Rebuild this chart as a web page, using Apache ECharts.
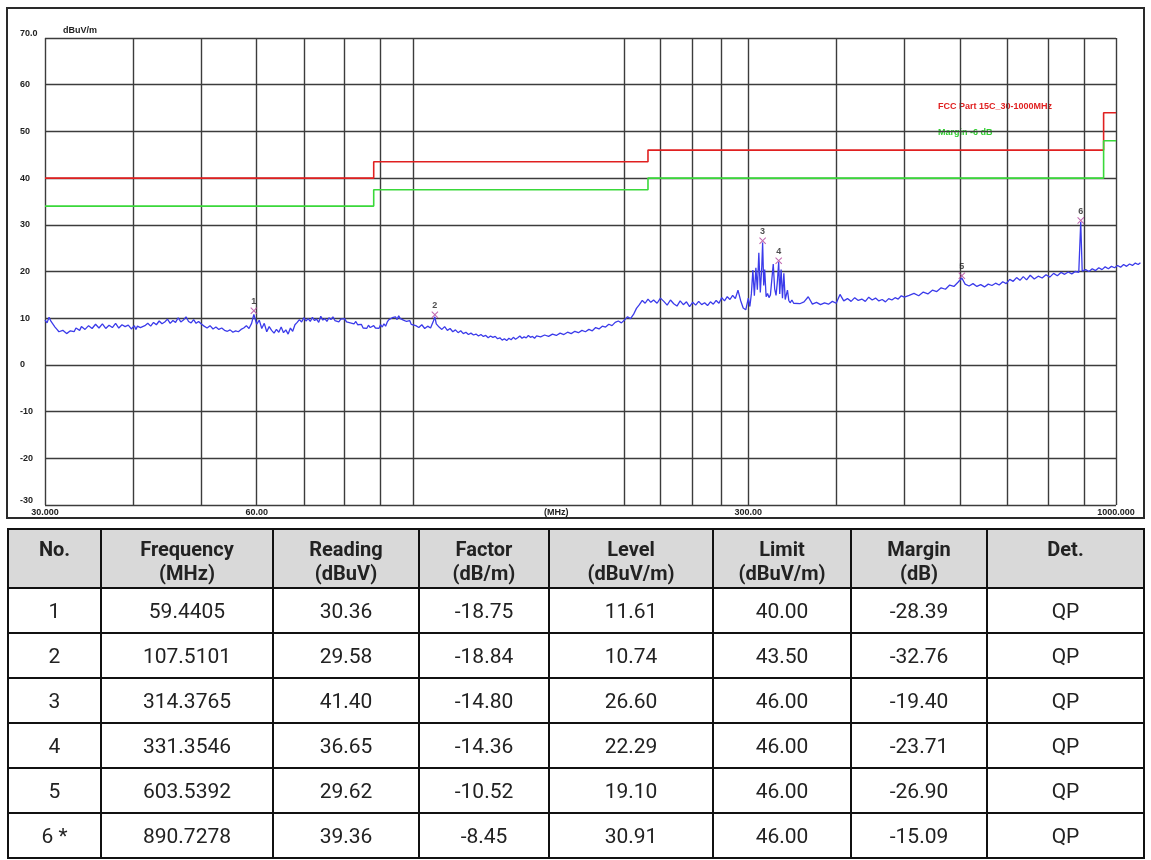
<!DOCTYPE html>
<html>
<head>
<meta charset="utf-8">
<script src="https://cdn.jsdelivr.net/npm/echarts@6/dist/echarts.min.js"></script>
<style>
  html, body { margin: 0; padding: 0; background: #fff; width: 1151px; height: 860px; overflow: hidden; }
  #frame { position: absolute; left: 6px; top: 7px; width: 1135px; height: 508px; border: 2px solid #2a2a2a; }
  #chart { position: absolute; left: 0; top: 0; width: 1151px; height: 525px; }
  #tbl { position: absolute; left: 7px; top: 528px; border-collapse: collapse; table-layout: fixed;
         font-family: Roboto, 'Liberation Sans', sans-serif; color: #222; }
  #tbl th, #tbl td { border: 2px solid #111; text-align: center; padding: 0; }
  #tbl th { background: #d9d9d9; font-weight: bold; font-size: 20px; line-height: 24px; height: 50px; vertical-align: top; padding-top: 7px; }
  #tbl td { font-size: 21px; height: 43px; }
</style>
</head>
<body>
<div id="frame"></div>
<div id="chart"></div>
<table id="tbl"></table>
<script>
const trace30to100 = [
  [30.0,9.6],[30.2,9.0],[30.4,10.2],[30.6,9.3],[30.8,9.0],[31.0,8.1],[31.2,7.6],[31.4,7.1],[31.6,6.9],[31.8,7.4],
  [32.0,7.2],[32.2,6.7],[32.4,6.8],[32.6,7.3],[32.8,7.5],[33.0,7.1],[33.2,7.9],[33.4,7.6],[33.6,7.4],[33.8,8.2],
  [34.0,8.1],[34.2,7.6],[34.4,7.7],[34.6,8.4],[34.8,8.3],[35.0,7.8],[35.2,8.0],[35.4,8.7],[35.6,8.6],[35.8,7.9],
  [36.0,8.1],[36.2,8.8],[36.4,8.4],[36.6,7.8],[36.8,7.9],[37.0,8.5],[37.2,8.7],[37.4,8.0],[37.6,8.2],[37.8,8.9],
  [38.0,8.5],[38.2,7.9],[38.4,8.0],[38.6,8.6],[38.8,8.8],[39.0,8.2],[39.2,7.9],[39.4,8.5],[39.6,8.4],[39.8,7.7],
  [40.0,8.1],[40.2,8.4],[40.4,7.6],[40.6,8.3],[40.8,8.6],[41.0,8.0],[41.2,7.8],[41.6,8.4],
  [42.0,8.9],[42.4,8.3],[42.8,9.1],[43.2,8.6],[43.6,9.4],[44.0,8.8],[44.4,9.2],[44.8,9.8],[45.2,8.9],[45.6,9.5],
  [46.0,9.1],[46.4,10.1],[46.8,9.2],[47.2,9.6],[47.6,10.3],[48.0,9.3],[48.4,9.0],[48.8,9.7],[49.2,8.9],[49.6,9.3],
  [50.0,8.8],[50.5,8.3],[51.0,7.9],[51.5,8.4],[52.0,7.7],[52.5,8.1],[53.0,7.6],[53.5,7.9],[54.0,7.4],[54.5,7.2],
  [55.0,7.5],[55.5,7.0],[56.0,7.3],[56.5,7.1],[57.0,7.6],[57.5,7.9],[58.0,8.4],[58.5,7.8],[59.0,8.9],[59.44,10.8],
  [60.0,8.7],[60.5,9.6],[61.0,7.8],[61.5,8.9],[62.0,7.1],[62.5,8.2],[63.0,7.4],[63.5,6.8],[64.0,7.6],[64.5,7.0],
  [65.0,8.1],[65.5,6.9],[66.0,7.5],[66.5,6.6],[67.0,7.9],[67.5,7.2],[68.0,8.6],[68.5,9.1],[69.0,9.7],[69.5,9.2],
  [70.0,10.1],[70.5,9.4],[71.0,9.9],[71.5,9.3],[72.0,10.2],[72.5,9.5],[73.0,9.8],[73.5,9.1],[74.0,10.4],[74.5,9.6],
  [75.0,9.9],[75.5,9.3],[76.0,10.1],[76.5,9.7],[77.0,10.3],[77.5,9.5],[78.0,9.9],[78.5,9.2],[79.0,9.8],[79.5,9.4],
  [80.0,9.9],[80.5,9.2],[81.0,9.6],[81.5,9.0],[82.0,9.4],[82.5,8.8],[83.0,9.3],[83.5,8.6],[84.0,8.2],[84.5,8.7],
  [85.0,7.9],[85.5,8.3],[86.0,7.8],[86.5,8.5],[87.0,8.0],[87.5,7.7],[88.0,8.4],[88.5,7.9],[89.0,8.3],[89.5,7.8],
  [90.0,8.6],[90.5,8.1],[91.0,8.8],[91.5,8.3],[92.0,9.2],[92.5,9.7],[93.0,9.4],[93.5,10.1],[94.0,9.8],[94.5,10.3],
  [95.0,9.7],[95.5,10.5],[96.0,9.9],[96.5,10.2],[97.0,9.6],[97.5,9.9],[98.0,9.3],[98.5,9.0],[99.0,9.5],[99.5,8.7],
  [100.0,8.9]
];
const trace100to300 = [
  [101,8.4],[102,8.0],[103,8.6],[104,7.8],[105,8.3],[106,7.9],[107,9.4],[107.51,10.3],[108,8.8],[109,8.1],
  [110,7.6],[111,8.2],[112,7.4],[113,7.8],[114,7.1],[115,7.5],[116,6.9],[117,7.3],[118,6.7],[119,7.0],
  [120,6.5],[121,6.8],[122,6.4],[123,6.6],[124,6.2],[125,6.5],[126,6.1],[127,6.3],[128,5.8],[129,6.2],
  [130,5.9],[131,6.1],[132,5.6],[133,5.8],[134,5.3],[135,5.6],[136,5.2],[137,5.7],[138,5.4],[139,5.9],
  [140,5.5],[141,5.8],[142,6.2],[143,5.7],[144,6.0],[145,5.8],[146,6.3],[147,5.9],[148,6.1],[149,5.7],
  [150,6.2],[152,6.0],[154,6.4],[156,6.1],[158,6.6],[160,6.3],[162,6.8],[164,6.5],[166,7.0],[168,6.7],
  [170,7.2],[172,6.9],[174,7.4],[176,7.1],[178,7.6],[180,7.3],[182,8.0],[184,7.7],[186,8.3],[188,8.1],
  [190,8.7],[192,8.4],[194,9.1],[196,9.4],[198,9.0],[200,9.6],[202,10.3],[204,9.9],[206,10.8],[208,12.1],
  [210,12.9],[212,13.8],[214,13.2],[216,14.1],[218,13.4],[220,13.9],[222.5,13.2],[225,14.3],[227.5,13.6],[230,12.8],
  [232.5,13.9],[235,13.1],[237.5,12.6],[240,13.7],[242.5,12.9],[245,13.5],[247.5,12.5],[250,13.4],[252.5,12.8],[255,13.6],
  [257.5,12.9],[260,13.3],[262.5,12.7],[265,13.5],[267.5,13.0],[270,13.8],[272.5,13.2],[275,14.4],[277.5,13.7],[280,14.6],
  [282.5,14.0],[285,14.9],[287.5,14.2],[290,16.0],[292.5,13.8],[295,12.2],[297.5,11.8],[300,14.3]
];
const trace300to1085 = [
  [301.5,12.5],[303,15.2],[304.5,20.3],[306,14.8],[307.5,20.8],[309,16.1],[310.5,24.0],[312,15.5],[313.5,21.0],[314.38,26.2],
  [315.5,17.0],[316.5,20.4],[318,14.6],[319.5,15.3],[321,14.4],[322.5,15.0],[324,14.7],[325.5,21.6],[327,16.3],[328.5,14.9],
  [330,18.0],[331.35,22.0],[332.5,15.2],[334,20.4],[335.5,14.3],[337,19.6],[338.5,14.0],[340,13.7],[341,16.0],[342.5,13.8],
  [344,13.3],[346,13.9],[348,13.2],[350,13.6],[355,13.1],[360,13.5],[365,14.6],[370,13.0],[375,13.4],[380,12.9],
  [385,13.3],[390,13.0],[395,13.6],[400,13.2],[405,15.1],[410,13.7],[415,14.2],[420,13.6],[425,14.4],[430,13.8],
  [435,14.1],[440,13.6],[445,14.5],[450,13.9],[455,14.3],[460,13.7],[465,14.0],[470,13.5],[475,14.2],[480,13.9],
  [485,14.4],[490,14.1],[495,14.8],[500,14.5],[508,14.9],[516,15.3],[524,14.8],[532,15.6],[540,15.2],[548,16.0],
  [556,15.7],[564,16.5],[572,16.2],[580,17.1],[588,16.8],[596,17.7],[603.54,18.6],[610,17.3],[618,16.9],[626,17.4],
  [634,16.8],[642,17.2],[650,16.7],[658,17.3],[666,17.0],[674,17.5],[682,17.1],[690,17.8],[698,17.4],[706,18.3],
  [714,17.9],[722,18.7],[730,18.1],[738,18.9],[746,18.2],[755,19.2],[765,18.4],[775,19.0],[785,18.6],[795,19.3],
  [805,18.8],[815,19.6],[825,19.1],[835,19.8],[845,19.4],[855,19.9],[865,19.5],[875,20.0],[885,19.8],[890.73,30.6],
  [895,20.1],[905,20.4],[915,20.0],[925,20.6],[935,20.2],[945,20.8],[955,20.4],[965,21.0],[975,20.6],[985,21.1],
  [995,20.8],[1005,21.3],[1015,20.9],[1025,21.5],[1035,21.1],[1045,21.6],[1055,21.3],[1065,21.8],[1075,21.5],[1083,21.9]
];

// FCC limit and margin (limit - 6 dB) step lines
const limitFreq = [30, 88, 88, 216, 216, 960, 960, 1000];
const limitLevel = [40, 40, 43.5, 43.5, 46, 46, 54, 54];
const marginLevel = [34, 34, 37.5, 37.5, 40, 40, 48, 48];

// grid and axis labels
const gridFreqs = [30, 40, 50, 60, 70, 80, 90, 100, 200, 225, 250, 275, 300, 400, 500, 600, 700, 800, 900, 1000];
const gridLevels = [-30, -20, -10, 0, 10, 20, 30, 40, 50, 60, 70];
const xLabelFreqs = [30, 60, 160, 300, 1000];
const xLabelTexts = ['30.000', '60.00', '(MHz)', '300.00', '1000.000'];

// result table
const markerNo = ['1', '2', '3', '4', '5', '6 *'];
const markerFreq = [59.4405, 107.5101, 314.3765, 331.3546, 603.5392, 890.7278];
const reading = [30.36, 29.58, 41.40, 36.65, 29.62, 39.36];
const factor = [-18.75, -18.84, -14.80, -14.36, -10.52, -8.45];
const level = [11.61, 10.74, 26.60, 22.29, 19.10, 30.91];
const limit = [40.00, 43.50, 46.00, 46.00, 46.00, 46.00];
const margin = [-28.39, -32.76, -19.40, -23.71, -26.90, -15.09];
const det = ['QP', 'QP', 'QP', 'QP', 'QP', 'QP'];

const smallFont = 'Liberation Sans';
const gridColor = '#3c3c3c';
const labelStyle = { fontSize: 9, fontWeight: 'bold', fontFamily: smallFont, color: '#222' };

const trace = trace30to100.concat(trace100to300, trace300to1085);

// vertical lines, horizontal lines (stop at 1000 MHz) and bottom labels
let gridLines = gridFreqs.map(f => ({ xAxis: f }));
gridLevels.forEach(v => {
  gridLines.push([{ coord: [30, v] }, { coord: [1000, v] }]);
});
xLabelFreqs.forEach((f, i) => {
  gridLines.push({
    xAxis: f,
    lineStyle: { color: 'rgba(0,0,0,0)' },
    label: Object.assign({ show: true, position: 'start', distance: 3, formatter: xLabelTexts[i] }, labelStyle)
  });
});

const chart = echarts.init(document.getElementById('chart'));
const option = {
  animation: false,
  // x axis runs a bit past 1000 MHz so the trace can overrun the plot like the original
  grid: { left: 45, top: 38, width: 1096, height: 467 },
  xAxis: {
    type: 'log', logBase: 10, min: 30, max: 1085,
    axisLine: { show: false }, axisTick: { show: false }, axisLabel: { show: false }, splitLine: { show: false }
  },
  yAxis: {
    type: 'value', min: -30, max: 70, interval: 10,
    name: 'dBuV/m', nameLocation: 'end', nameGap: 3,
    nameTextStyle: Object.assign({ align: 'left', verticalAlign: 'bottom', padding: [0, 0, 0, 18] }, labelStyle),
    axisLine: { show: false }, axisTick: { show: false },
    axisLabel: Object.assign({
      align: 'left', margin: 25,
      formatter: v => (v === 70 ? '70.0' : String(v)),
      verticalAlignMaxLabel: 'bottom', verticalAlignMinLabel: 'bottom'
    }, labelStyle),
    splitLine: { show: false }
  },
  graphic: [
    { type: 'text', left: 938, top: 102, style: { text: 'FCC Part 15C_30-1000MHz', fill: '#e02020', font: 'bold 9px ' + smallFont } },
    { type: 'text', left: 938, top: 128, style: { text: 'Margin -6 dB', fill: '#2fcf2f', font: 'bold 9px ' + smallFont } }
  ],
  series: [
    {
      name: 'grid', type: 'line', data: [[30, 70]], symbol: 'none', silent: true, z: 1,
      lineStyle: { opacity: 0 },
      markLine: {
        silent: true, symbol: 'none', animation: false,
        label: { show: false },
        lineStyle: { color: gridColor, width: 1.4, type: 'solid' },
        data: gridLines
      }
    },
    {
      name: 'FCC Part 15C_30-1000MHz', type: 'line', zlevel: 1, z: 3, symbol: 'none',
      data: limitFreq.map((f, i) => [f, limitLevel[i]]),
      lineStyle: { color: '#e02020', width: 1.6 }
    },
    {
      name: 'Margin -6 dB', type: 'line', zlevel: 1, z: 3, symbol: 'none',
      data: limitFreq.map((f, i) => [f, marginLevel[i]]),
      lineStyle: { color: '#3ad83a', width: 1.6 }
    },
    {
      name: 'Trace', type: 'line', zlevel: 1, z: 4, symbol: 'none',
      data: trace,
      lineStyle: { color: '#3b3bea', width: 1.3 }
    },
    {
      name: 'Markers', type: 'scatter', zlevel: 1, z: 5,
      data: markerFreq.map((f, i) => [f, level[i]]),
      symbol: 'path://M0,1L1,0L5,4L9,0L10,1L6,5L10,9L9,10L5,6L1,10L0,9L4,5Z',
      symbolSize: 7,
      itemStyle: { color: '#b0409a' },
      label: Object.assign({ show: true, position: 'top', distance: 1, formatter: p => String(p.dataIndex + 1) }, labelStyle)
    }
  ]
};
chart.setOption(option);

// results table under the plot
const colWidths = [93, 172, 146, 130, 164, 138, 136, 157];
const headers = ['No.', 'Frequency<br>(MHz)', 'Reading<br>(dBuV)', 'Factor<br>(dB/m)', 'Level<br>(dBuV/m)', 'Limit<br>(dBuV/m)', 'Margin<br>(dB)', 'Det.'];
let html = '<colgroup>' + colWidths.map(w => '<col style="width:' + w + 'px">').join('') + '</colgroup>';
html += '<tr>' + headers.map(h => '<th>' + h + '</th>').join('') + '</tr>';
markerNo.forEach((n, i) => {
  html += '<tr><td>' + n + '</td><td>' + markerFreq[i].toFixed(4) + '</td><td>' + reading[i].toFixed(2) +
          '</td><td>' + factor[i].toFixed(2) + '</td><td>' + level[i].toFixed(2) + '</td><td>' + limit[i].toFixed(2) +
          '</td><td>' + margin[i].toFixed(2) + '</td><td>' + det[i] + '</td></tr>';
});
document.getElementById('tbl').innerHTML = html;
</script>
</body>
</html>
